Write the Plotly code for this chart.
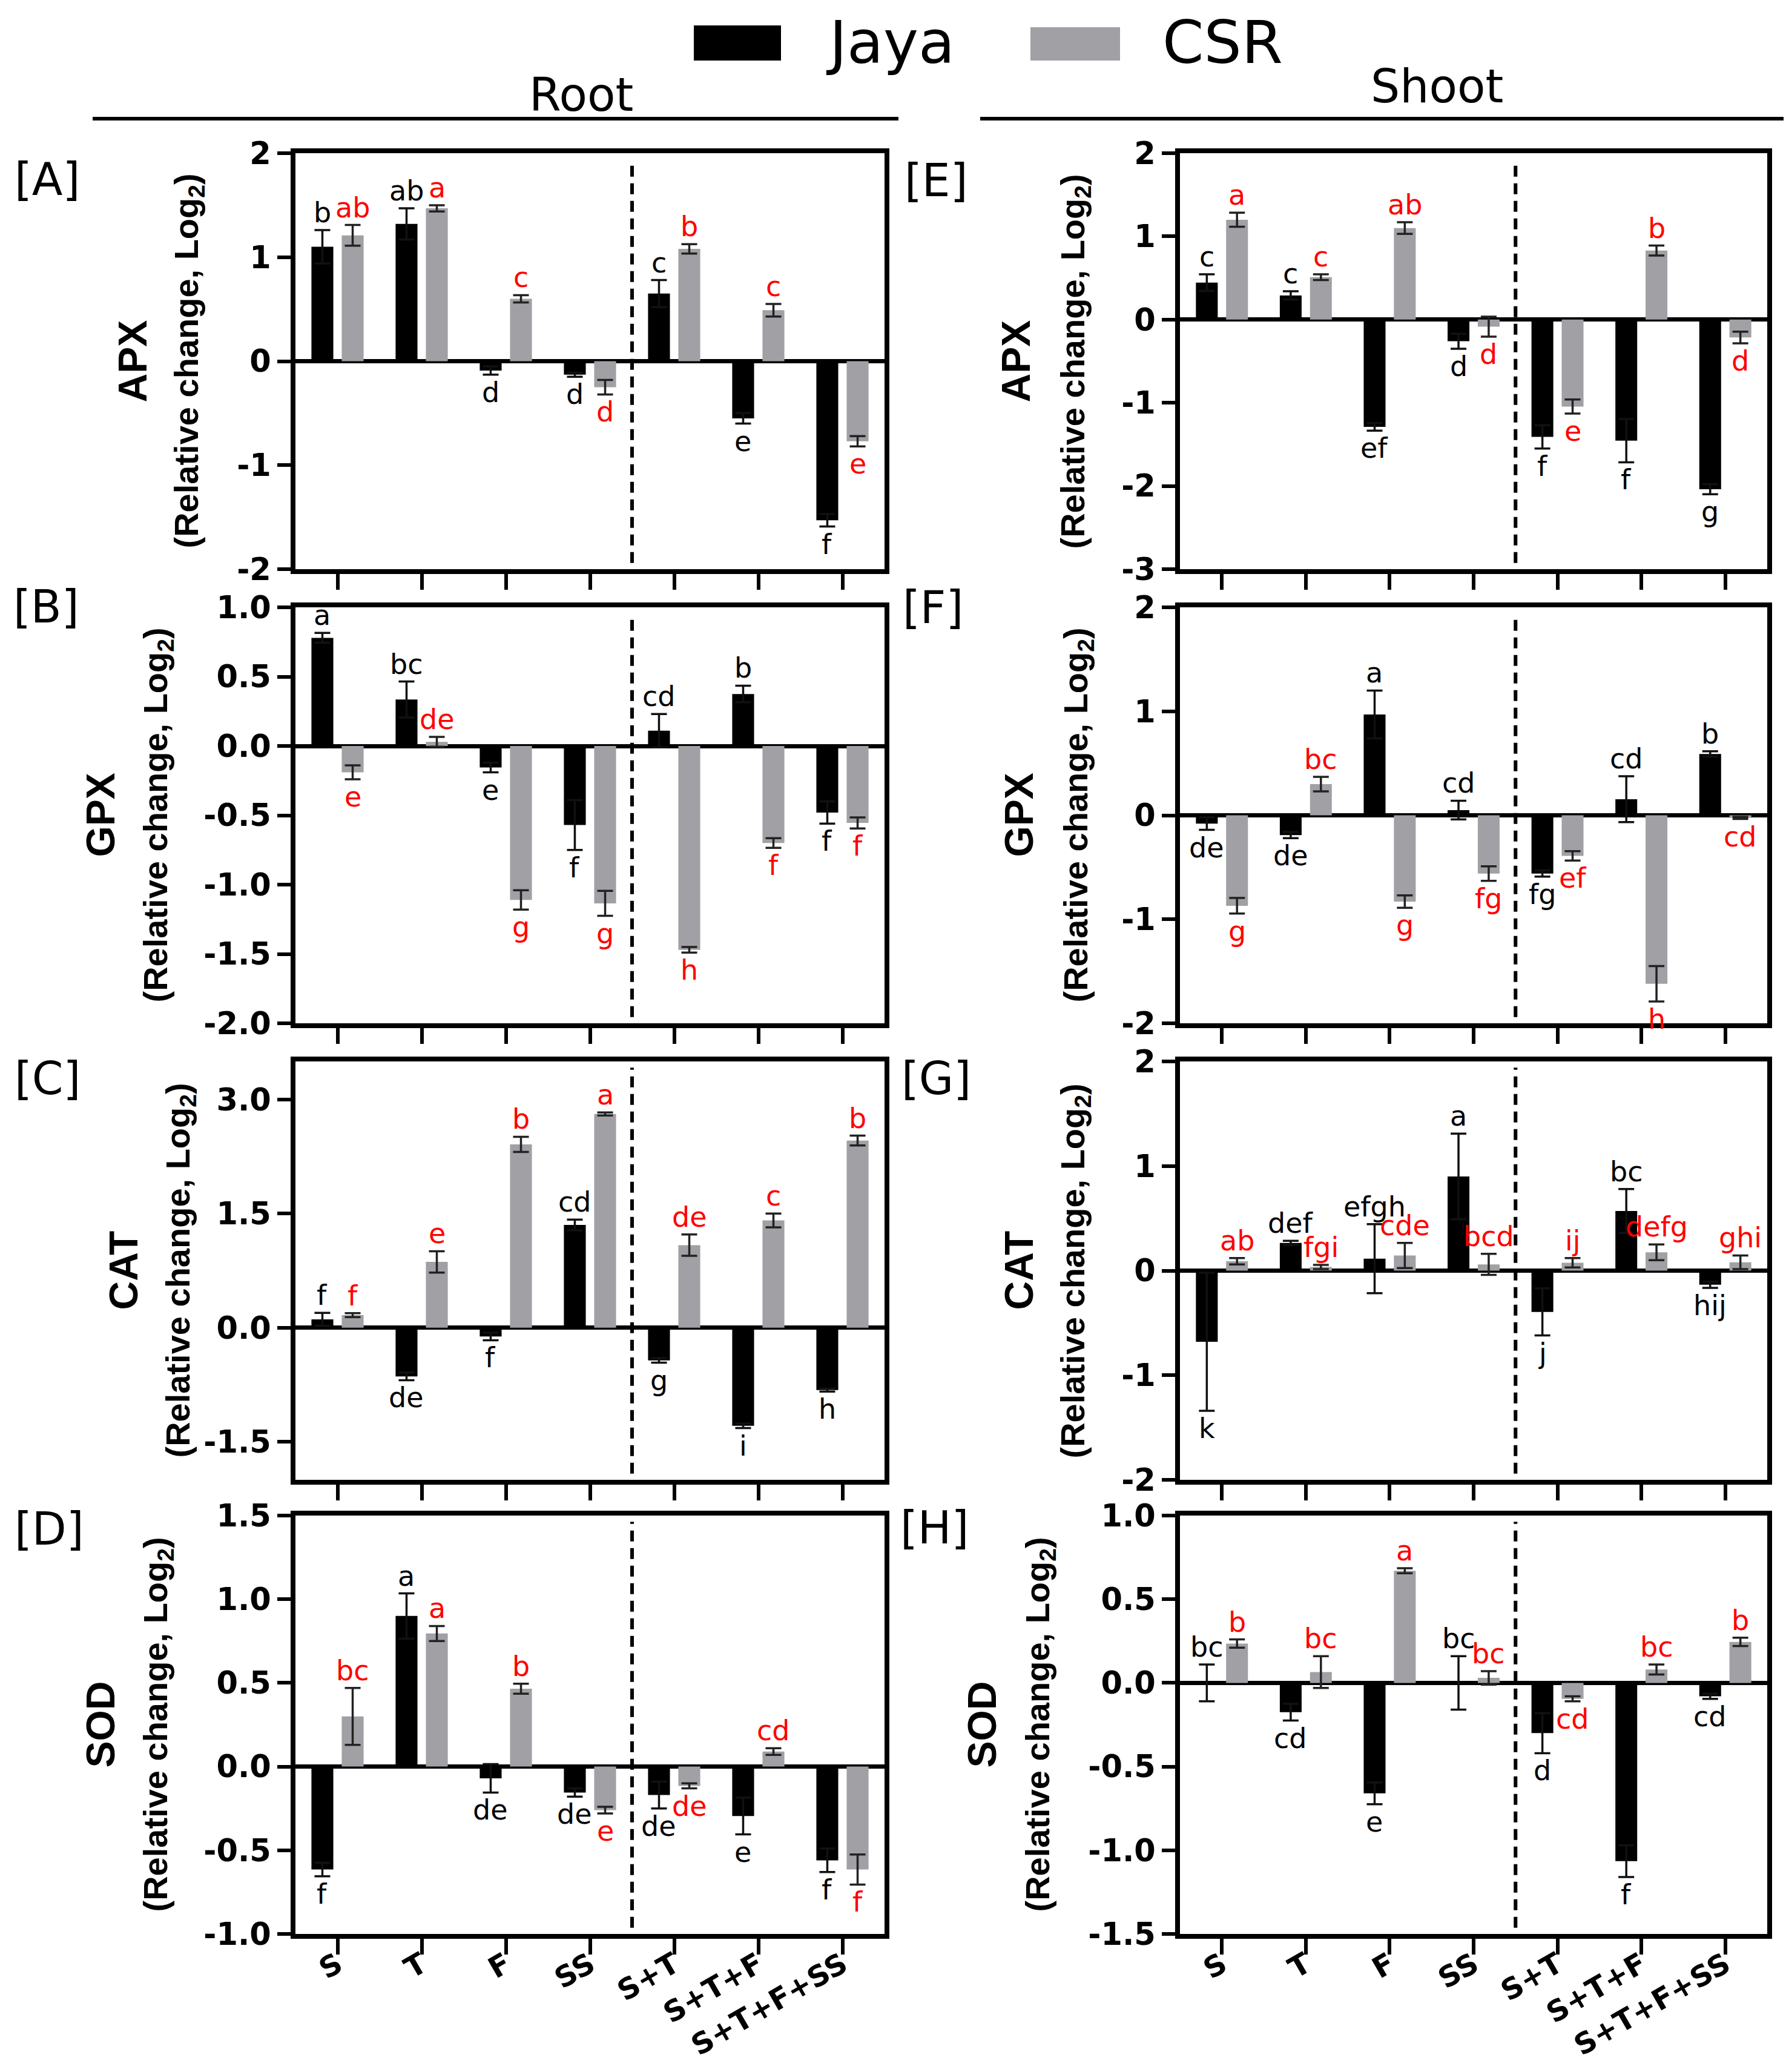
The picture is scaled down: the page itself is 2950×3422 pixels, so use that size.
import plotly.graph_objects as go

categories = ["S", "T", "F", "SS", "S+T", "S+T+F", "S+T+F+SS"]

# [A] Root APX
apx_root_jaya = [1.10, 1.32, -0.09, -0.13, 0.65, -0.55, -1.53]
apx_root_jaya_err = [0.16, 0.15, 0.04, 0.02, 0.13, 0.05, 0.06]
apx_root_csr = [1.21, 1.47, 0.60, -0.25, 1.08, 0.49, -0.77]
apx_root_csr_err = [0.10, 0.03, 0.035, 0.07, 0.045, 0.06, 0.05]
apx_root_jaya_let = ["b", "ab", "d", "d", "c", "e", "f"]
apx_root_csr_let = ["ab", "a", "c", "d", "b", "c", "e"]

# [B] Root GPX
gpx_root_jaya = [0.78, 0.335, -0.155, -0.57, 0.11, 0.375, -0.48]
gpx_root_jaya_err = [0.035, 0.13, 0.035, 0.18, 0.12, 0.06, 0.08]
gpx_root_csr = [-0.19, 0.03, -1.11, -1.135, -1.47, -0.70, -0.555]
gpx_root_csr_err = [0.05, 0.035, 0.07, 0.09, 0.02, 0.035, 0.04]
gpx_root_jaya_let = ["a", "bc", "e", "f", "cd", "b", "f"]
gpx_root_csr_let = ["e", "de", "g", "g", "h", "f", "f"]

# [C] Root CAT
cat_root_jaya = [0.11, -0.64, -0.115, 1.35, -0.43, -1.29, -0.82]
cat_root_jaya_err = [0.085, 0.05, 0.05, 0.07, 0.03, 0.03, 0.02]
cat_root_csr = [0.165, 0.865, 2.41, 2.81, 1.085, 1.41, 2.46]
cat_root_csr_err = [0.025, 0.14, 0.10, 0.02, 0.14, 0.09, 0.065]
cat_root_jaya_let = ["f", "de", "f", "cd", "g", "i", "h"]
cat_root_csr_let = ["f", "e", "b", "a", "de", "c", "b"]

# [D] Root SOD
sod_root_jaya = [-0.615, 0.90, -0.07, -0.155, -0.17, -0.295, -0.56]
sod_root_jaya_err = [0.04, 0.135, 0.085, 0.025, 0.08, 0.11, 0.07]
sod_root_csr = [0.30, 0.795, 0.465, -0.26, -0.115, 0.09, -0.615]
sod_root_csr_err = [0.17, 0.045, 0.03, 0.02, 0.015, 0.02, 0.09]
sod_root_jaya_let = ["f", "a", "de", "de", "de", "e", "f"]
sod_root_csr_let = ["bc", "a", "b", "e", "de", "cd", "f"]

# [E] Shoot APX
apx_shoot_jaya = [0.445, 0.29, -1.29, -0.26, -1.41, -1.455, -2.04]
apx_shoot_jaya_err = [0.10, 0.05, 0.045, 0.09, 0.14, 0.26, 0.06]
apx_shoot_csr = [1.20, 0.51, 1.10, -0.085, -1.045, 0.83, -0.215]
apx_shoot_csr_err = [0.085, 0.035, 0.07, 0.12, 0.085, 0.06, 0.07]
apx_shoot_jaya_let = ["c", "c", "ef", "d", "f", "f", "g"]
apx_shoot_csr_let = ["a", "c", "ab", "d", "e", "b", "d"]

# [F] Shoot GPX
gpx_shoot_jaya = [-0.08, -0.19, 0.97, 0.05, -0.56, 0.155, 0.59]
gpx_shoot_jaya_err = [0.06, 0.03, 0.23, 0.09, 0.03, 0.22, 0.025]
gpx_shoot_csr = [-0.87, 0.30, -0.83, -0.56, -0.39, -1.62, -0.025]
gpx_shoot_csr_err = [0.075, 0.07, 0.06, 0.07, 0.045, 0.17, 0.01]
gpx_shoot_jaya_let = ["de", "de", "a", "cd", "fg", "cd", "b"]
gpx_shoot_csr_let = ["g", "bc", "g", "fg", "ef", "h", "cd"]

# [G] Shoot CAT
cat_shoot_jaya = [-0.68, 0.265, 0.115, 0.90, -0.395, 0.57, -0.135]
cat_shoot_jaya_err = [0.66, 0.02, 0.33, 0.41, 0.225, 0.21, 0.03]
cat_shoot_csr = [0.09, 0.035, 0.145, 0.06, 0.075, 0.175, 0.08]
cat_shoot_csr_err = [0.03, 0.02, 0.12, 0.10, 0.045, 0.075, 0.065]
cat_shoot_jaya_let = ["k", "def", "efgh", "a", "j", "bc", "hij"]
cat_shoot_csr_let = ["ab", "fgi", "cde", "bcd", "ij", "defg", "ghi"]

# [H] Shoot SOD
sod_shoot_jaya = [0.0, -0.175, -0.66, 0.0, -0.30, -1.065, -0.08]
sod_shoot_jaya_err = [0.11, 0.05, 0.065, 0.16, 0.12, 0.095, 0.015]
sod_shoot_csr = [0.235, 0.065, 0.67, 0.03, -0.095, 0.08, 0.245]
sod_shoot_csr_err = [0.025, 0.095, 0.015, 0.04, 0.015, 0.03, 0.025]
sod_shoot_jaya_let = ["bc", "cd", "e", "bc", "d", "f", "cd"]
sod_shoot_csr_let = ["b", "bc", "a", "bc", "cd", "bc", "b"]

panel_labels = ["[A]", "[B]", "[C]", "[D]", "[E]", "[F]", "[G]", "[H]"]
enzymes = ["APX", "GPX", "CAT", "SOD", "APX", "GPX", "CAT", "SOD"]
y_ranges = [[-2, 2], [-2, 1], [-2, 3.5], [-1, 1.5], [-3, 2], [-2, 2], [-2, 2], [-1.5, 1]]
y_ticks = [[-2, -1, 0, 1, 2], [-2, -1.5, -1, -0.5, 0, 0.5, 1], [-1.5, 0, 1.5, 3.0],
           [-1, -0.5, 0, 0.5, 1, 1.5], [-3, -2, -1, 0, 1, 2], [-2, -1, 0, 1, 2],
           [-2, -1, 0, 1, 2], [-1.5, -1, -0.5, 0, 0.5, 1]]
y_fmt = ["%d", "%.1f", "%.1f", "%.1f", "%d", "%d", "%d", "%.1f"]

data = [
    (apx_root_jaya, apx_root_jaya_err, apx_root_csr, apx_root_csr_err, apx_root_jaya_let, apx_root_csr_let),
    (gpx_root_jaya, gpx_root_jaya_err, gpx_root_csr, gpx_root_csr_err, gpx_root_jaya_let, gpx_root_csr_let),
    (cat_root_jaya, cat_root_jaya_err, cat_root_csr, cat_root_csr_err, cat_root_jaya_let, cat_root_csr_let),
    (sod_root_jaya, sod_root_jaya_err, sod_root_csr, sod_root_csr_err, sod_root_jaya_let, sod_root_csr_let),
    (apx_shoot_jaya, apx_shoot_jaya_err, apx_shoot_csr, apx_shoot_csr_err, apx_shoot_jaya_let, apx_shoot_csr_let),
    (gpx_shoot_jaya, gpx_shoot_jaya_err, gpx_shoot_csr, gpx_shoot_csr_err, gpx_shoot_jaya_let, gpx_shoot_csr_let),
    (cat_shoot_jaya, cat_shoot_jaya_err, cat_shoot_csr, cat_shoot_csr_err, cat_shoot_jaya_let, cat_shoot_csr_let),
    (sod_shoot_jaya, sod_shoot_jaya_err, sod_shoot_csr, sod_shoot_csr_err, sod_shoot_jaya_let, sod_shoot_csr_let),
]

# ---------------- layout geometry (pixels) ----------------
W, H = 2950, 3422
col_px = [(488, 1461), (1949, 2919)]
row_px = [(253, 940), (1003, 1690), (1753, 2444), (2503, 3194)]
title1_x = [218, 165, 203, 165, 1677, 1682, 1682, 1621]
title2_x = [311, 260, 297, 260, 1775, 1780, 1775, 1717]
label_pos = [(22, 296), (20, 1002), (22, 1781), (22, 2525),
             (1492, 298), (1489, 1003), (1487, 1781), (1485, 2523)]

BLACK = "#000000"
GRAY = "#a0a0a5"
RED = "#ff0000"
YTICKFONT = dict(family="DejaVu Sans", size=51, color="black", weight="bold")
XTICKFONT = dict(family="DejaVu Sans", size=48, color="black", weight="bold")
LETFONT_FAM = "DejaVu Sans"
LETSIZE = 46
TITLE_FAM = "Liberation Sans, Arial"

fig = go.Figure()
annotations = []
shapes = []
layout = {}
idx = list(range(len(categories)))


def px_x(v):
    return v / W


def px_y(v):
    return 1 - v / H


for k in range(8):
    n = k + 1
    col = 0 if k < 4 else 1
    row = k % 4
    xa = "x" if n == 1 else f"x{n}"
    ya = "y" if n == 1 else f"y{n}"
    jv, je, cv, ce, jl, cl = data[k]

    fig.add_trace(go.Bar(
        x=idx, y=jv, width=0.26, offset=-0.31, marker=dict(color=BLACK, line=dict(width=0)),
        error_y=dict(type="data", array=je, visible=True, color="#111111", thickness=3.5, width=13),
        xaxis=xa, yaxis=ya, name="Jaya", showlegend=False))
    fig.add_trace(go.Bar(
        x=idx, y=cv, width=0.26, offset=0.05, marker=dict(color=GRAY, line=dict(width=0)),
        error_y=dict(type="data", array=ce, visible=True, color="#222222", thickness=3.5, width=13),
        xaxis=xa, yaxis=ya, name="CSR", showlegend=False))

    x0, x1 = col_px[col]
    y0, y1 = row_px[row]
    layout["xaxis" if n == 1 else f"xaxis{n}"] = dict(
        domain=[px_x(x0), px_x(x1)], anchor=ya, range=[-0.5, 6.5], automargin=False,
        tickmode="array", tickvals=idx, ticktext=categories,
        showticklabels=(row == 3), tickangle=-30, tickfont=XTICKFONT,
        ticklabelstandoff=-30,
        ticks="outside", ticklen=26, tickwidth=6, tickcolor="black",
        showline=True, linewidth=8, linecolor="black", mirror=True,
        showgrid=False, zeroline=False, fixedrange=True)
    layout["yaxis" if n == 1 else f"yaxis{n}"] = dict(
        domain=[px_y(y1), px_y(y0)], anchor=xa, range=y_ranges[k], automargin=False,
        tickmode="array", tickvals=y_ticks[k],
        ticktext=[(y_fmt[k] % t) for t in y_ticks[k]],
        tickfont=YTICKFONT, ticks="outside", ticklen=22, tickwidth=6, tickcolor="black",
        showline=True, linewidth=8, linecolor="black", mirror=True,
        showgrid=False, zeroline=True, zerolinewidth=7, zerolinecolor="black",
        fixedrange=True)

    # dashed separator between single and combined stresses
    shapes.append(dict(type="line", xref=xa, yref=f"{ya} domain", x0=3.5, x1=3.5,
                       y0=0.015, y1=0.985, line=dict(color="black", width=6, dash="18px,11px")))

    # significance letters
    for i in idx:
        for vals, errs, lets, off, colr in ((jv, je, jl, -0.18, "black"), (cv, ce, cl, 0.18, RED)):
            v, e = vals[i], errs[i]
            if v >= 0:
                yy, anc, sh = v + e, "bottom", 1
            else:
                yy, anc, sh = v - e, "top", -1
            annotations.append(dict(
                x=i + off, y=yy, xref=xa, yref=ya, text=lets[i], showarrow=False,
                xanchor="center", yanchor=anc, yshift=sh, borderpad=0,
                font=dict(family=LETFONT_FAM, size=LETSIZE, color=colr)))

    # y-axis titles
    yc = px_y((y0 + y1) / 2)
    annotations.append(dict(
        x=px_x(title1_x[k]), y=yc, xref="paper", yref="paper", text=enzymes[k],
        textangle=-90, showarrow=False, xanchor="center", yanchor="middle",
        font=dict(family=TITLE_FAM, size=66, color="black", weight="bold")))
    annotations.append(dict(
        x=px_x(title2_x[k]), y=yc, xref="paper", yref="paper",
        text="(Relative change, Log<sub>2</sub>)",
        textangle=-90, showarrow=False, xanchor="center", yanchor="middle",
        font=dict(family=TITLE_FAM, size=56, color="black", weight="bold")))

    # panel label
    lx, ly = label_pos[k]
    annotations.append(dict(
        x=px_x(lx), y=px_y(ly), xref="paper", yref="paper", text=panel_labels[k],
        showarrow=False, xanchor="left", yanchor="middle",
        font=dict(family="DejaVu Sans", size=74, color="black")))

# legend (drawn manually)
shapes.append(dict(type="rect", xref="paper", yref="paper",
                   x0=px_x(1146), x1=px_x(1290), y0=px_y(100), y1=px_y(42),
                   fillcolor=BLACK, line=dict(width=0)))
shapes.append(dict(type="rect", xref="paper", yref="paper",
                   x0=px_x(1702), x1=px_x(1850), y0=px_y(100), y1=px_y(45),
                   fillcolor=GRAY, line=dict(width=0)))
annotations.append(dict(x=px_x(1362), y=px_y(70), xref="paper", yref="paper", text="Jaya",
                        showarrow=False, xanchor="left", yanchor="middle",
                        font=dict(family="DejaVu Sans", size=98, color="black")))
annotations.append(dict(x=px_x(1918), y=px_y(70), xref="paper", yref="paper", text="CSR",
                        showarrow=False, xanchor="left", yanchor="middle",
                        font=dict(family="DejaVu Sans", size=98, color="black")))

# Root / Shoot headers
annotations.append(dict(x=px_x(960), y=px_y(157), xref="paper", yref="paper", text="Root",
                        showarrow=False, xanchor="center", yanchor="middle",
                        font=dict(family="DejaVu Sans", size=76, color="black")))
annotations.append(dict(x=px_x(2373), y=px_y(143), xref="paper", yref="paper", text="Shoot",
                        showarrow=False, xanchor="center", yanchor="middle",
                        font=dict(family="DejaVu Sans", size=76, color="black")))
shapes.append(dict(type="line", xref="paper", yref="paper", x0=px_x(153), x1=px_x(1484),
                   y0=px_y(196), y1=px_y(196), line=dict(color="black", width=6)))
shapes.append(dict(type="line", xref="paper", yref="paper", x0=px_x(1619), x1=px_x(2946),
                   y0=px_y(196), y1=px_y(196), line=dict(color="black", width=6)))

fig.update_layout(
    template="none",
    width=W, height=H, autosize=False,
    margin=dict(l=0, r=0, t=0, b=0, pad=0, autoexpand=False),
    paper_bgcolor="white", plot_bgcolor="white",
    showlegend=False, annotations=annotations, shapes=shapes,
    **layout)

fig.write_html(
    "out.html",
    config={"displayModeBar": False, "responsive": False},
    post_script=("document.body.style.margin='0';"
                 "document.body.style.overflow='hidden';"
                 "document.documentElement.style.overflow='hidden';"))
